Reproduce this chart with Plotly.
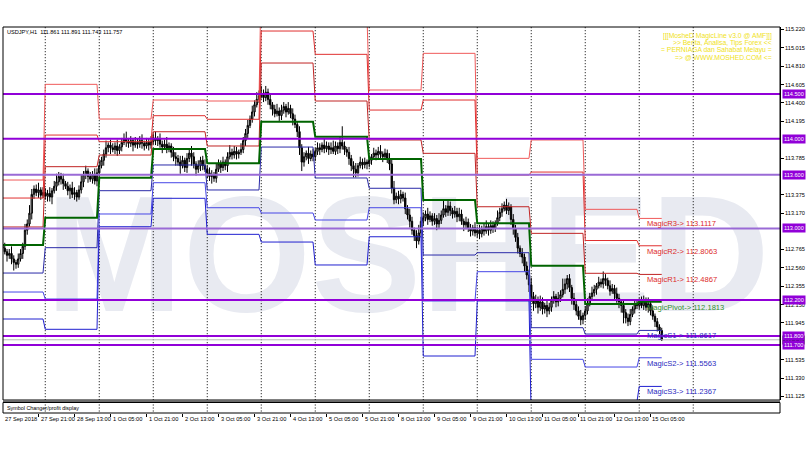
import plotly.graph_objects as go

# ---------------- data ----------------
# hourly closes, USDJPY H1, 27 Sep 2018 05:00 -> 15 Oct 2018 10:00
close = [
    # 27 Sep (05:00-23:00)
    112.78, 112.74, 112.70, 112.72, 112.66, 112.62, 112.60, 112.66, 112.72, 112.80,
    112.98, 113.05, 113.17, 113.38, 113.44, 113.40, 113.43, 113.37, 113.40,
    # 28 Sep
    113.36, 113.39, 113.35, 113.42, 113.47, 113.52, 113.58, 113.55, 113.50, 113.47, 113.42, 113.45,
    113.38, 113.40, 113.35, 113.43, 113.52, 113.60, 113.64, 113.58, 113.55, 113.60, 113.53, 113.62,
    # 1 Oct
    113.70, 113.76, 113.83, 113.90, 113.93, 113.90, 113.88, 113.92, 113.87, 113.91, 113.96, 114.00,
    113.97, 113.95, 113.98, 113.93, 113.96, 113.94, 113.98, 113.95, 113.92, 113.96, 113.93, 113.97,
    # 2 Oct
    114.01, 113.98, 114.00, 113.94, 113.91, 113.94, 113.89, 113.92, 113.85, 113.80, 113.78, 113.74,
    113.70, 113.76, 113.68, 113.78, 113.84, 113.80, 113.72, 113.66, 113.70, 113.76, 113.70, 113.66,
    # 3 Oct
    113.62, 113.58, 113.60, 113.56, 113.66, 113.72, 113.68, 113.74, 113.70, 113.80, 113.85, 113.82,
    113.86, 113.83, 113.85, 113.88, 113.98, 114.06, 114.15, 114.22, 114.30, 114.38, 114.44, 114.48,
    # 4 Oct
    114.50, 114.46, 114.52, 114.44, 114.38, 114.33, 114.28, 114.31, 114.26, 114.32, 114.36, 114.30,
    114.34, 114.28, 114.22, 114.16, 114.08, 113.90, 113.74, 113.80, 113.84, 113.78, 113.83, 113.80,
    # 5 Oct
    113.86, 113.90, 113.88, 113.93, 113.89, 113.92, 113.88, 113.90, 113.86, 113.92, 113.89, 113.96,
    113.92, 113.88, 113.85, 113.78, 113.70, 113.66, 113.62, 113.70, 113.74, 113.71, 113.74, 113.72,
    # 8 Oct
    113.76, 113.80, 113.84, 113.82, 113.86, 113.83, 113.80, 113.84, 113.78, 113.72, 113.45, 113.32,
    113.36, 113.33, 113.38, 113.34, 113.22, 113.15, 113.08, 112.98, 112.92, 112.86, 112.95, 113.08,
    # 9 Oct
    113.12, 113.16, 113.10, 113.14, 113.08, 113.11, 113.05, 113.09, 113.15, 113.22, 113.18, 113.25,
    113.20, 113.16, 113.19, 113.13, 113.16, 113.08, 113.04, 113.07, 113.00, 112.97, 113.01, 112.95,
    # 10 Oct
    112.98, 112.94, 113.00, 112.97, 113.02, 112.98, 113.03, 113.00, 113.06, 113.12, 113.18, 113.22,
    113.26, 113.20, 113.24, 113.10, 113.00, 112.90, 112.78, 112.72, 112.68, 112.58, 112.48, 112.37,
    # 11 Oct
    112.24, 112.16, 112.20, 112.12, 112.18, 112.10, 112.14, 112.08, 112.12, 112.20, 112.24, 112.18,
    112.22, 112.26, 112.32, 112.38, 112.44, 112.34, 112.22, 112.15, 112.08, 112.02, 111.98, 112.03,
    # 12 Oct
    112.08, 112.16, 112.24, 112.28, 112.32, 112.36, 112.40, 112.38, 112.44, 112.42, 112.36, 112.30,
    112.33, 112.27, 112.22, 112.18, 112.14, 112.06, 112.00, 111.96, 112.04, 112.10, 112.16, 112.14,
    # 15 Oct (00:00-10:00)
    112.18, 112.14, 112.20, 112.12, 112.16, 112.08, 112.02, 111.96, 111.90, 111.861, 111.757,
]
first_open = 112.80

# upper / lower wicks in pips (0.01)
wick_up = [
    4, 6, 3, 5, 8, 4, 3, 6, 5, 4, 7, 5, 9, 6, 4, 5, 8, 3, 6,
    5, 4, 7, 3, 6, 9, 5, 4, 6, 3, 5, 4, 7, 6, 3, 5, 8, 4, 6, 3, 5, 4, 7, 5,
    6, 4, 5, 8, 3, 6, 5, 4, 7, 3, 5, 6, 8, 4, 5, 3, 6, 4, 5, 7, 3, 5, 4, 6,
    5, 7, 3, 6, 4, 5, 8, 4, 3, 6, 5, 4, 7, 5, 3, 6, 4, 8, 5, 3, 6, 4, 5, 7,
    4, 6, 5, 3, 7, 5, 4, 6, 3, 5, 8, 4, 6, 5, 3, 7, 4, 5, 6, 4, 7, 5, 8, 6,
    9, 5, 7, 4, 6, 3, 5, 8, 4, 6, 5, 3, 7, 4, 6, 5, 3, 6, 4, 5, 3, 7, 4, 6,
    4, 6, 5, 3, 7, 5, 4, 6, 8, 5, 4, 6, 18, 5, 3, 6, 4, 5, 7, 3, 6, 4, 5, 3,
    5, 3, 6, 4, 5, 7, 3, 5, 4, 6, 5, 8, 4, 6, 5, 3, 6, 4, 7, 5, 3, 6, 9, 5,
    6, 4, 7, 5, 3, 6, 4, 8, 5, 9, 4, 6, 5, 3, 6, 4, 7, 5, 3, 6, 4, 5, 3, 6,
    4, 6, 3, 5, 7, 4, 6, 5, 3, 8, 5, 6, 4, 7, 5, 3, 6, 4, 5, 3, 6, 4, 5, 6,
    8, 5, 6, 4, 7, 5, 3, 6, 5, 4, 6, 3, 7, 5, 12, 6, 4, 5, 3, 6, 4, 5, 7, 3,
    5, 6, 4, 7, 5, 3, 6, 4, 8, 5, 3, 6, 5, 4, 7, 5, 3, 6, 4, 5, 6, 3, 4, 5,
    4, 6, 5, 3, 7, 4, 5, 3, 4, 3, 3,
]
wick_dn = [
    5, 3, 7, 4, 6, 9, 5, 4, 3, 6, 4, 5, 3, 7, 5, 4, 6, 5, 3,
    4, 6, 5, 8, 3, 5, 4, 6, 7, 3, 5, 9, 4, 6, 5, 3, 4, 6, 5, 7, 3, 5, 4, 6,
    5, 3, 6, 4, 5, 7, 3, 5, 6, 4, 5, 3, 6, 5, 4, 7, 3, 5, 4, 6, 5, 3, 6, 4,
    3, 5, 6, 4, 7, 3, 5, 4, 6, 5, 8, 4, 9, 3, 5, 6, 4, 10, 5, 7, 4, 6, 5, 3,
    6, 5, 8, 4, 5, 3, 6, 4, 5, 7, 3, 5, 4, 6, 5, 3, 4, 6, 5, 3, 4, 5, 3, 4,
    3, 5, 4, 6, 5, 7, 4, 3, 6, 5, 4, 6, 3, 5, 7, 4, 6, 8, 10, 5, 4, 6, 3, 5,
    5, 4, 6, 3, 5, 4, 6, 5, 3, 4, 6, 5, 4, 6, 5, 7, 6, 9, 5, 4, 3, 5, 4, 6,
    4, 5, 3, 6, 4, 5, 6, 3, 5, 7, 6, 5, 4, 6, 5, 4, 6, 5, 7, 5, 6, 8, 4, 5,
    5, 4, 6, 3, 5, 4, 7, 5, 4, 3, 5, 4, 6, 5, 4, 6, 5, 4, 7, 5, 4, 6, 5, 4,
    5, 6, 4, 5, 3, 6, 4, 5, 4, 3, 4, 5, 3, 4, 5, 6, 7, 5, 6, 4, 7, 6, 5, 8,
    6, 8, 5, 7, 4, 6, 5, 7, 4, 5, 4, 6, 5, 4, 3, 5, 6, 5, 7, 6, 5, 4, 6, 5,
    5, 4, 3, 5, 4, 6, 3, 4, 5, 6, 4, 5, 3, 6, 5, 7, 8, 12, 6, 5, 4, 3, 5, 4,
    4, 3, 5, 4, 6, 5, 4, 6, 5, 4, 1.4,
]

# daily MagicLine (classic pivot) levels, one value per trading day
day_start = [0, 19, 43, 67, 91, 115, 139, 163, 187, 211, 235, 259, 283]
pivot = [112.815, 113.119, 113.566, 113.886, 113.727, 114.191, 114.023, 113.775, 113.317, 113.057, 112.584, 112.156, 112.1813]
r1 = [113.016, 113.689, 113.819, 114.079, 113.920, 114.846, 114.422, 113.987, 113.838, 113.242, 112.945, 112.499, 112.4867]
r2 = [113.339, 114.042, 113.968, 114.258, 114.218, 115.203, 114.943, 114.321, 114.433, 113.596, 113.629, 112.865, 112.8063]
r3 = [113.540, 114.608, 114.221, 114.433, 114.422, 115.860, 115.350, 114.545, 114.954, 113.782, 113.987, 113.213, 113.1117]
s1 = [112.502, 112.785, 113.421, 113.708, 113.429, 113.908, 113.563, 113.448, 112.703, 112.729, 111.892, 111.821, 111.8617]
s2 = [112.290, 112.212, 113.161, 113.510, 113.231, 113.172, 113.094, 113.231, 112.190, 112.517, 111.539, 111.453, 111.5563]
s3 = [111.989, 111.874, 113.019, 113.336, 112.934, 112.848, 112.592, 112.907, 111.576, 112.190, 110.844, 111.070, 111.2367]

# horizontal price lines (purple) and current bid
h_levels = [114.500, 114.000, 113.600, 113.000, 112.200, 111.800, 111.700]
bid = 111.757

# right price axis labels
y_ticks = [115.220, 115.015, 114.810, 114.605, 114.400, 114.195, 113.785, 113.375, 113.170,
           112.765, 112.560, 112.355, 112.150, 111.945, 111.535, 111.330, 111.125]

# time axis labels (every 16 bars)
x_label_idx = [0, 16, 32, 48, 64, 80, 96, 112, 128, 144, 160, 176, 192, 208, 224, 240, 256, 272, 288]
x_labels = ["27 Sep 2018", "27 Sep 21:00", "28 Sep 13:00", "1 Oct 05:00", "1 Oct 21:00", "2 Oct 13:00",
            "3 Oct 05:00", "3 Oct 21:00", "4 Oct 13:00", "5 Oct 05:00", "5 Oct 21:00", "8 Oct 13:00",
            "9 Oct 05:00", "9 Oct 21:00", "10 Oct 13:00", "11 Oct 05:00", "11 Oct 21:00", "12 Oct 13:00",
            "15 Oct 05:00"]
grid_idx = [19, 43, 67, 91, 115, 139, 163, 187, 211, 235, 259, 283, 307]

info_lines = ["[[[MosheD MagicLine v3.0 @ AMF]]]", ">> Berita, Analisa, Tips Forex <<",
              "= PERNIAGA dan Sahabat Melayu =", "=> @ WWW.MOSHED.COM <="]
header = "USDJPY,H1  111.861 111.891 111.743 111.757"
watermark = "MOSHED"

# ---------------- build ----------------
n_bars = len(close)
xs = list(range(n_bars))
opens = [first_open] + close[:-1]
highs = [round(max(o, c) + u / 100, 3) for o, c, u in zip(opens, close, wick_up)]
lows = [round(min(o, c) - d / 100, 3) for o, c, d in zip(opens, close, wick_dn)]


def expand(vals):
    out = []
    for d, v in enumerate(vals):
        end = day_start[d + 1] if d + 1 < len(day_start) else n_bars
        out += [v] * (end - day_start[d])
    return out


Y_MIN, Y_MAX = 111.085, 115.248
X_MIN, X_MAX = 0.22, 345.56
W, H = 810, 450
ML, MR, MT, MB = 3, 30, 27, 37
plot_h = H - MT - MB
plot_w = W - ML - MR


def py(px):  # pixel row -> paper y
    return (H - MB - px) / plot_h


def pxp(px):  # pixel column -> paper x
    return (px - ML) / plot_w


main_bottom = py(400)
sub_top = py(402.5)

fig = go.Figure()

# dotted grid (main pane + sub window)
gx, gy = [], []
for g in grid_idx:
    gx += [g, g, None]
    gy += [100, 120, None]
fig.add_trace(go.Scatter(x=gx, y=gy, mode="lines", line=dict(color="#000000", width=1, dash="1px,2px"),
                         hoverinfo="skip", showlegend=False))
fig.add_trace(go.Scatter(x=gx, y=[-1, 2, None] * len(grid_idx), yaxis="y2", mode="lines",
                         line=dict(color="#000000", width=1, dash="1px,2px"),
                         hoverinfo="skip", showlegend=False))

# pivot levels
level_styles = [
    (r3, "#f05a5a", 1), (r2, "#e03030", 1), (r1, "#c02424", 1),
    (s1, "#2a2aa8", 1), (s2, "#4646e6", 1), (s3, "#2020d0", 1),
    (pivot, "#006400", 2),
]
for vals, col, wdt in level_styles:
    fig.add_trace(go.Scatter(x=xs, y=expand(vals), mode="lines", line=dict(color=col, width=wdt),
                             hoverinfo="skip", showlegend=False))

# candles
fig.add_trace(go.Candlestick(
    x=xs, open=opens, high=highs, low=lows, close=close,
    increasing=dict(line=dict(color="#000000", width=1), fillcolor="#9a9a9a"),
    decreasing=dict(line=dict(color="#000000", width=1), fillcolor="#000000"),
    whiskerwidth=0, showlegend=False, hoverinfo="skip"))

shapes = []
# watermark (behind everything)
shapes.append(dict(type="rect", xref="paper", yref="paper", x0=pxp(40), x1=pxp(775),
                   y0=py(301), y1=py(175), line=dict(width=0), fillcolor="rgba(0,0,0,0)", layer="below",
                   label=dict(text=watermark, textposition="middle center",
                              font=dict(size=165, color="#e8eaf1", family="Liberation Sans", weight="bold"))))
purple_cols = ["#9100d8", "#9100d8", "#9a6ad6", "#9a6ad6", "#9100d8", "#9100d8", "#9100d8"]
for lv, col in zip(h_levels, purple_cols):
    shapes.append(dict(type="line", xref="paper", x0=0, x1=1, yref="y", y0=lv, y1=lv,
                       line=dict(color=col, width=2), layer="above"))
shapes.append(dict(type="line", xref="paper", x0=0, x1=1, yref="y", y0=bid, y1=bid,
                   line=dict(color="#b8b8b8", width=1), layer="above"))
# frames
shapes.append(dict(type="rect", xref="paper", yref="paper", x0=0, x1=1, y0=main_bottom, y1=1,
                   line=dict(color="#000000", width=1), layer="above"))
shapes.append(dict(type="line", xref="paper", yref="paper", x0=0, x1=1, y0=py(401), y1=py(401),
                   line=dict(color="#6a6a6a", width=2), layer="above"))
shapes.append(dict(type="rect", xref="paper", yref="paper", x0=0, x1=1, y0=0, y1=sub_top,
                   line=dict(color="#000000", width=1), layer="above"))

ann = []
small = "Liberation Sans"
# time labels (left aligned at the bar)
for i, t in zip(x_label_idx, x_labels):
    ann.append(dict(x=max(i, X_MIN), xref="x", y=py(414), yref="paper", text=t, showarrow=False,
                    xanchor="left", yanchor="top", font=dict(size=5.7, color="#000000", family=small)))
# header and sub window title
ann.append(dict(x=pxp(5), y=py(32), xref="paper", yref="paper", text=header,
                showarrow=False, xanchor="left", yanchor="middle",
                font=dict(size=5.6, color="#000000", family=small)))
ann.append(dict(x=pxp(5), y=py(407.5), xref="paper", yref="paper",
                text="Symbol Changer/profit display", showarrow=False, xanchor="left", yanchor="middle",
                font=dict(size=5.4, color="#000000", family=small)))
# yellow info block
for k, line in enumerate(info_lines):
    ann.append(dict(x=pxp(774), y=py(36 + 7.2 * k), xref="paper", yref="paper",
                    text=line, showarrow=False, xanchor="right", yanchor="middle",
                    font=dict(size=6.8, color="#f0e21a", family=small)))
# level labels on the current day
lab_x = day_start[-1] + 2.6
lab_items = [("MagicR3-> %.4f" % r3[-1], r3[-1], "#dd2a2a"), ("MagicR2-> %.4f" % r2[-1], r2[-1], "#dd2a2a"),
             ("MagicR1-> %.4f" % r1[-1], r1[-1], "#dd2a2a"), ("MagicPivot-> %.4f" % pivot[-1], pivot[-1], "#2f8f2f"),
             ("MagicS1-> %.4f" % s1[-1], s1[-1], "#2a2ac0"), ("MagicS2-> %.4f" % s2[-1], s2[-1], "#2a2ac0"),
             ("MagicS3-> %.4f" % s3[-1], s3[-1], "#2a2ac0")]
for txt, lv, col in lab_items:
    ann.append(dict(x=lab_x, xref="x", y=lv, yref="y", text=txt, showarrow=False, xanchor="left",
                    yanchor="top", yshift=1, font=dict(size=7.6, color=col, family=small)))
# price boxes on the right axis
box_x = pxp(782)
ann.append(dict(x=box_x, xref="paper", y=bid, yref="y", text="111.757", showarrow=False, xanchor="left",
                yanchor="middle", bgcolor="#000000", borderpad=1,
                font=dict(size=5.6, color="#ffffff", family=small)))
for lv in h_levels:
    ann.append(dict(x=box_x, xref="paper", y=lv, yref="y", text="%.3f" % lv, showarrow=False,
                    xanchor="left", yanchor="middle", bgcolor="#9100d8", borderpad=1,
                    font=dict(size=5.6, color="#ffffff", family=small)))

fig.update_layout(
    width=W, height=H, margin=dict(l=ML, r=MR, t=MT, b=MB),
    paper_bgcolor="#ffffff", plot_bgcolor="#ffffff", showlegend=False, boxgap=0.15,
    shapes=shapes, annotations=ann,
    xaxis=dict(range=[X_MIN, X_MAX], anchor="y2", showgrid=False, zeroline=False, showline=False,
               tickvals=x_label_idx, showticklabels=False, ticks="outside", ticklen=3,
               tickcolor="#000000", rangeslider=dict(visible=False)),
    yaxis=dict(domain=[main_bottom, 1], range=[Y_MIN, Y_MAX], side="right", anchor="x",
               tickvals=y_ticks, ticktext=["%.3f" % v for v in y_ticks], ticks="outside", ticklen=3,
               tickcolor="#000000", showgrid=False, zeroline=False, showline=True, linecolor="#000000",
               tickfont=dict(size=5.6, color="#000000", family=small)),
    yaxis2=dict(domain=[0, sub_top], range=[0, 1], anchor="x", showticklabels=False, showgrid=False,
                zeroline=False, showline=False),
)

fig.write_html("out.html", config={"displayModeBar": False},
               post_script="document.body.style.margin='0';document.body.style.overflow='hidden';")
